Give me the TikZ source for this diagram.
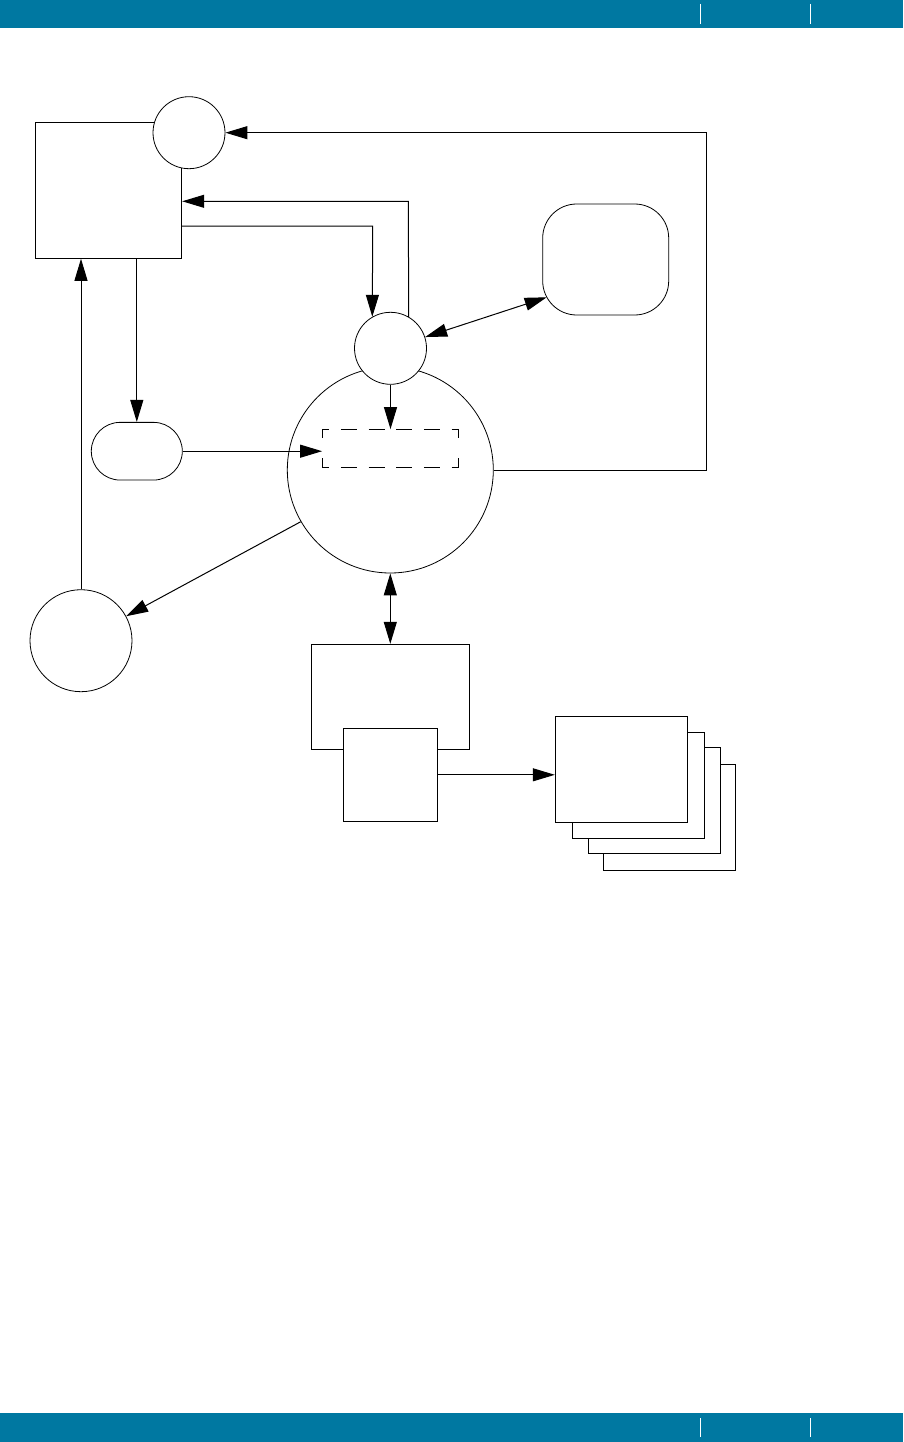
\documentclass[tikz,border=0pt]{standalone}
\usetikzlibrary{arrows.meta,calc}
\definecolor{barblue}{RGB}{0,120,161}
\tikzset{
  box/.style={draw,line width=1pt,fill=white,inner sep=0pt},
  circ/.style={draw,circle,line width=0.8pt,fill=white,inner sep=0pt},
  rbox/.style={draw,line width=0.8pt,fill=white,inner sep=0pt},
  arr/.style={line width=1pt,-{Triangle[length=22pt,width=13pt]}},
  darr/.style={line width=1pt,{Triangle[length=22pt,width=13pt]}-{Triangle[length=22pt,width=13pt]}},
  conn/.style={line width=1pt},
  hdash/.style={line width=1pt,dash pattern=on 16pt off 11.7pt,dash phase=9pt},
  vdash/.style={line width=1pt,dash pattern=on 8.5pt off 20.7pt},
  sep/.style={white,line width=1pt}
}
\begin{document}
\begin{tikzpicture}[x=1pt,y=-1pt]
\useasboundingbox (0,0) rectangle (903,1442);
\fill[white] (0,0) rectangle (903,1442);
% header and footer bars
\fill[barblue] (0,0) rectangle (903,27.7);
\fill[barblue] (0,1413) rectangle (903,1442);
\draw[sep] (700,4) -- (700,24) (810,4) -- (810,24);
\draw[sep] (700,1418) -- (700,1437) (810,1418) -- (810,1437);

% nodes
\node[box,minimum width=146.4pt,minimum height=136pt] (A) at (108.5,190.3) {};
\node[circ,minimum size=72pt] (c1) at (189,132.7) {};
\node[rbox,rounded corners=34pt,minimum width=126pt,minimum height=111pt] (rr) at (605.7,259.5) {};
\node[circ,minimum size=206pt] (bc) at (390.3,470) {};
\node[circ,minimum size=72pt] (sc) at (390.5,348.3) {};
\node[inner sep=0pt,minimum width=136.4pt,minimum height=37.7pt] (dr) at (390.5,448.2) {};
\node[rbox,rounded corners=28.8pt,minimum width=91pt,minimum height=57.7pt] (pill) at (136.8,451.2) {};
\node[circ,minimum size=102pt] (lc) at (81,640.7) {};
\node[box,minimum width=158pt,minimum height=104.7pt] (bA) at (390.3,696.7) {};
\node[box,minimum width=94pt,minimum height=93pt] (bB) at (390.3,774.8) {};
\node[box,minimum width=132pt,minimum height=106pt] (s4) at (669.3,817.2) {};
\node[box,minimum width=132pt,minimum height=106pt] (s3) at (654.3,800.7) {};
\node[box,minimum width=132pt,minimum height=106pt] (s2) at (638.3,785.3) {};
\node[box,minimum width=132pt,minimum height=106pt] (s1) at (621.3,769.3) {};

% dashed box outline
\draw[hdash] (dr.north west) -- (dr.north east);
\draw[hdash] (dr.south west) -- (dr.south east);
\draw[vdash] (dr.north west) -- (dr.south west);
\draw[vdash] (dr.north east) -- (dr.south east);

% helper coordinates
\coordinate (rt) at (706.3,132.7);
\coordinate (a1) at (408.3,201.3);
\coordinate (a2) at (372.7,226);
\coordinate (rrpt) at (546.7,297.3);

% connectors
\draw[arr] (bc.east) -| (rt) -- (c1.east);
\draw[arr] (sc.60) -- (a1) -- (A.east |- a1);
\draw[arr] (A.east |- a2) -- (a2) -- (sc.120);
\draw[arr] (A.south -| pill.north) -- (pill.north);
\draw[arr] (pill.east) -- (pill.east -| dr.west);
\draw[arr] (sc.south) -- (dr.north);
\draw[arr] (bc.210) -- (lc);
\draw[arr] (lc.north) -- (lc.north |- A.south);
\draw[darr] (bc.south) -- (bA.north);
\draw[darr] (sc.18.5) -- (rrpt);
\draw[arr] (bB.east) -- (bB.east -| s1.west);
\end{tikzpicture}
\end{document}
